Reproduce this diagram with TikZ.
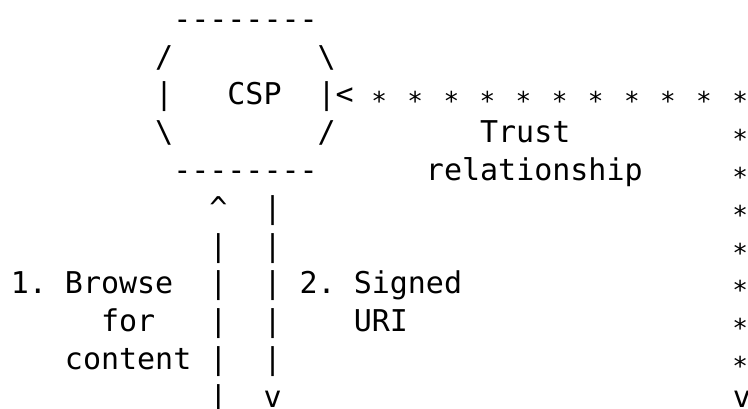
\documentclass[tikz,border=0pt]{standalone}
\usepackage{fontspec}
\setmonofont{DejaVu Sans Mono}

\begin{document}
\begin{tikzpicture}[x=18.05pt, y=-37.8pt,
	every node/.style={inner sep=0pt, anchor=base west, font=\ttfamily\fontsize{30}{36}\selectfont},
	starpt/.style={anchor=base, xshift=-1.5pt, yshift=-6pt, font=\ttfamily\fontsize{26}{30}\selectfont}]

	\useasboundingbox (0pt,0pt) rectangle (748pt,-409pt);

	\begin{scope}[shift={(10.6pt,-29.4pt)}]

	% the CSP box
	\node (top) at (9,0) {--------};
	\node (nw) at (8,1) {/};
	\node (ne) at (17,1) {\textbackslash};
	\node (west) at (8,2) {|};
	\node (csp) at (12,2) {CSP};
	\node (east) at (17,2) {|};
	\node (sw) at (8,3) {\textbackslash};
	\node (se) at (17,3) {/};
	\node (bottom) at (9,4) {--------};

	% trust relationship
	\node (head) at (18,2) {<};
	\foreach \c in {20,22,...,40}
		\node[starpt] (s\c) at (\c+.5,2) {*};
	\foreach \r in {3,...,9}
		\node[starpt] (t\r) at (40.5,\r) {*};
	\node (tail) at (40,10) {v};
	\node (trust) at (26,3) {Trust};
	\node (relation) at (23,4) {relationship};

	% browse for content
	\node (up) at (11,5) {\textasciicircum};
	\foreach \r in {6,...,10}
		\node (a\r) at (11,\r) {|};
	\node (one) at (0,7) {1.};
	\node (browse) at (3,7) {Browse};
	\node (for) at (5,8) {for};
	\node (content) at (3,9) {content};

	% signed URI
	\foreach \r in {5,...,9}
		\node (b\r) at (14,\r) {|};
	\node (down) at (14,10) {v};
	\node (two) at (16,7) {2.};
	\node (signed) at (19,7) {Signed};
	\node (uri) at (19,8) {URI};

	\end{scope}

\end{tikzpicture}
\end{document}
